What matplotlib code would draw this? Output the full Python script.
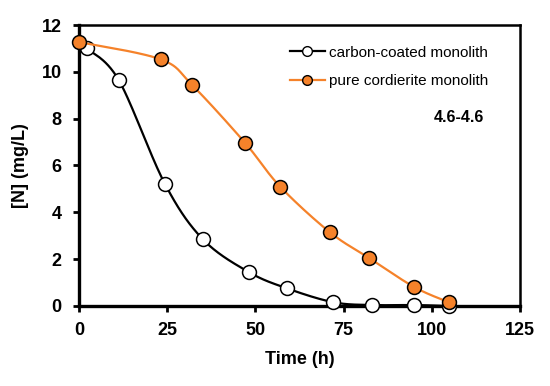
import numpy as np
import matplotlib
matplotlib.use("Agg")
import matplotlib.pyplot as plt
from matplotlib.lines import Line2D

# Data
time_carbon = [2.3, 11.3, 24.3, 35.1, 48.1, 59.0, 72.1, 83.0, 95.0, 104.8]
n_carbon = [11.0, 9.64, 5.23, 2.85, 1.45, 0.75, 0.16, 0.04, 0.04, 0.0]
time_cord = [0.1, 23.2, 32.1, 47.0, 57.0, 71.1, 82.1, 95.0, 104.8]
n_cord = [11.27, 10.53, 9.43, 6.98, 5.10, 3.15, 2.06, 0.81, 0.16]
label_carbon = "carbon-coated monolith"
label_cord = "pure cordierite monolith"
annotation = "4.6-4.6"
x_ticks = [0, 25, 50, 75, 100, 125]
y_ticks = [0, 2, 4, 6, 8, 10, 12]

ORANGE = "#F5822A"

plt.rcParams['font.family'] = ['Liberation Sans', 'DejaVu Sans']


def smooth(xs, ys, n=30):
    P = np.column_stack([xs, ys]).astype(float)
    Pext = np.vstack([P[0], P, P[-1]])
    out = []
    for i in range(len(P) - 1):
        p0, p1, p2, p3 = Pext[i], Pext[i + 1], Pext[i + 2], Pext[i + 3]
        c1 = p1 + (p2 - p0) / 6.0
        c2 = p2 - (p3 - p1) / 6.0
        t = np.linspace(0, 1, n)[:, None]
        seg = ((1 - t) ** 3) * p1 + 3 * ((1 - t) ** 2) * t * c1 + 3 * (1 - t) * t ** 2 * c2 + t ** 3 * p2
        out.append(seg if i == 0 else seg[1:])
    S = np.vstack(out)
    return S[:, 0], S[:, 1]


fig = plt.figure(figsize=(5.5, 3.86), dpi=100)
ax = fig.add_axes([0.1436, 0.2073, 0.8019, 0.7279])

sx, sy = smooth(time_carbon, n_carbon)
ax.plot(sx, sy, color="black", lw=1.6, zorder=2, clip_on=False)
ax.plot(time_carbon, n_carbon, ls="none", marker="o", ms=10, mfc="white",
        mec="black", mew=1.1, zorder=3, clip_on=False)

ox, oy = smooth(time_cord, n_cord)
ax.plot(ox, oy, color=ORANGE, lw=1.6, zorder=4, clip_on=False)
ax.plot(time_cord, n_cord, ls="none", marker="o", ms=10, mfc=ORANGE,
        mec="black", mew=1.1, zorder=5, clip_on=False)

ax.set_xlim(0, 125)
ax.set_ylim(0, 12)
ax.set_xticks(x_ticks)
ax.set_yticks(y_ticks)
ax.tick_params(direction="out", length=4.5, width=2, labelsize=13)
ax.tick_params(axis="x", pad=7)
ax.tick_params(axis="y", pad=8)
for lab in ax.get_xticklabels() + ax.get_yticklabels():
    lab.set_fontweight("bold")
for side in ["left", "bottom"]:
    ax.spines[side].set_linewidth(2.4)
for side in ["top", "right"]:
    ax.spines[side].set_linewidth(1.8)

ax.set_xlabel("Time (h)", fontsize=13, fontweight="bold", labelpad=9)
ax.set_ylabel("[N] (mg/L)", fontsize=13, fontweight="bold", labelpad=9)

handles = [
    Line2D([], [], color="black", lw=1.6, marker="o", ms=7, mfc="white", mec="black", mew=1.0),
    Line2D([], [], color=ORANGE, lw=1.6, marker="o", ms=7, mfc=ORANGE, mec="black", mew=1.0),
]
ax.legend(handles, [label_carbon, label_cord], loc="upper left",
          bbox_to_anchor=(0.447, 0.975), frameon=False, fontsize=11,
          handlelength=2.3, handletextpad=0.25, labelspacing=0.95)

ax.text(0.862, 0.67, annotation, transform=ax.transAxes, ha="center", va="center",
        fontsize=11.5, fontweight="bold")

fig.savefig("out.png", dpi=100)
